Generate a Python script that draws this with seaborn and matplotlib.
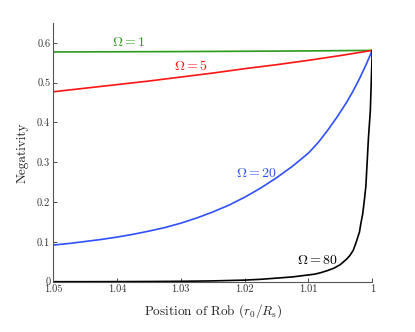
import matplotlib
matplotlib.use('Agg')
import matplotlib.pyplot as plt
import seaborn as sns
import pandas as pd

# values
x_green = [1.05, 1.04, 1.03, 1.02, 1.01, 1.0]
y_green = [0.577, 0.5775, 0.578, 0.5788, 0.5797, 0.581]

x_red = [1.05, 1.045, 1.04, 1.035, 1.03, 1.025, 1.02, 1.015, 1.01, 1.005, 1.0]
y_red = [0.477, 0.486, 0.495, 0.504, 0.514, 0.524, 0.535, 0.545, 0.556, 0.568, 0.581]

x_blue = [1.05, 1.0475, 1.045, 1.0425, 1.04, 1.0375, 1.035, 1.0325, 1.03, 1.0275, 1.025, 1.0225,
          1.02, 1.0175, 1.015, 1.0125, 1.01, 1.0085, 1.007, 1.0055, 1.004, 1.003, 1.002, 1.001, 1.0]
y_blue = [0.092, 0.096, 0.101, 0.106, 0.112, 0.119, 0.127, 0.136, 0.147, 0.160, 0.175, 0.192,
          0.212, 0.235, 0.261, 0.290, 0.323, 0.349, 0.380, 0.414, 0.451, 0.479, 0.510, 0.544, 0.581]

x_black = [1.05, 1.045, 1.04, 1.035, 1.03, 1.025, 1.02, 1.0175, 1.015, 1.0125, 1.01, 1.009, 1.008,
           1.007, 1.006, 1.005, 1.0045, 1.004, 1.0035, 1.003, 1.0025, 1.002, 1.0018, 1.0015,
           1.0012, 1.001, 1.0008, 1.0006, 1.0003, 1.0]
y_black = [0.0, 0.0, 0.0002, 0.0005, 0.001, 0.002, 0.004, 0.006, 0.009, 0.012, 0.017, 0.019, 0.023,
           0.028, 0.034, 0.043, 0.050, 0.057, 0.066, 0.078, 0.100, 0.125, 0.145, 0.170,
           0.210, 0.240, 0.300, 0.360, 0.430, 0.581]

omega_names = ['1', '5', '20', '80']
line_colors = ['#2a9a1a', '#ff1414', '#3050ff', '#000000']
label_x = [1.0381, 1.0284, 1.0182, 1.0086]
label_y = [0.600, 0.542, 0.273, 0.053]

x_ticks = [1.05, 1.04, 1.03, 1.02, 1.01, 1.0]
x_ticklabels = ['1.05', '1.04', '1.03', '1.02', '1.01', '1']
y_ticks = [0, 0.1, 0.2, 0.3, 0.4, 0.5, 0.6]
y_ticklabels = ['0', '0.1', '0.2', '0.3', '0.4', '0.5', '0.6']

frames = []
for name, xs, ys in zip(omega_names, [x_green, x_red, x_blue, x_black], [y_green, y_red, y_blue, y_black]):
    frames.append(pd.DataFrame({'x': xs, 'y': ys, 'omega': name}))
df = pd.concat(frames, ignore_index=True)

sns.set_style('ticks')
plt.rcParams['font.family'] = 'serif'
plt.rcParams['font.serif'] = ['cmr10', 'DejaVu Serif']
plt.rcParams['mathtext.fontset'] = 'cm'
plt.rcParams['axes.unicode_minus'] = False

fig = plt.figure(figsize=(4.15, 3.32), dpi=100)
ax = fig.add_axes([0.128, 0.1515, 0.769, 0.7795])

sns.lineplot(data=df, x='x', y='y', hue='omega', palette=dict(zip(omega_names, line_colors)),
             estimator=None, sort=True, linewidth=1.2, legend=False, ax=ax)

# curve labels
for name, col, lx, ly in zip(omega_names, line_colors, label_x, label_y):
    ax.text(lx, ly, r'$\Omega=' + name + '$', color=col, fontsize=10, ha='center', va='center')

ax.set_xlim(1.05, 1.0)
ax.set_ylim(0, 0.65)
ax.set_xticks(x_ticks)
ax.set_xticklabels(x_ticklabels)
ax.set_yticks(y_ticks)
ax.set_yticklabels(y_ticklabels)
ax.tick_params(direction='in', length=3, width=0.6, labelsize=7.5, colors='#333333', pad=2)

for side in ['top', 'right']:
    ax.spines[side].set_visible(False)
for side in ['left', 'bottom']:
    ax.spines[side].set_color('#555555')
    ax.spines[side].set_linewidth(0.8)

ax.set_xlabel(r'Position of Rob ($r_0/R_\mathrm{s}$)', fontsize=9.5, color='#222222', labelpad=6)
ax.set_ylabel('Negativity', fontsize=9.5, color='#222222', labelpad=6)

fig.savefig('out.png', dpi=100)
